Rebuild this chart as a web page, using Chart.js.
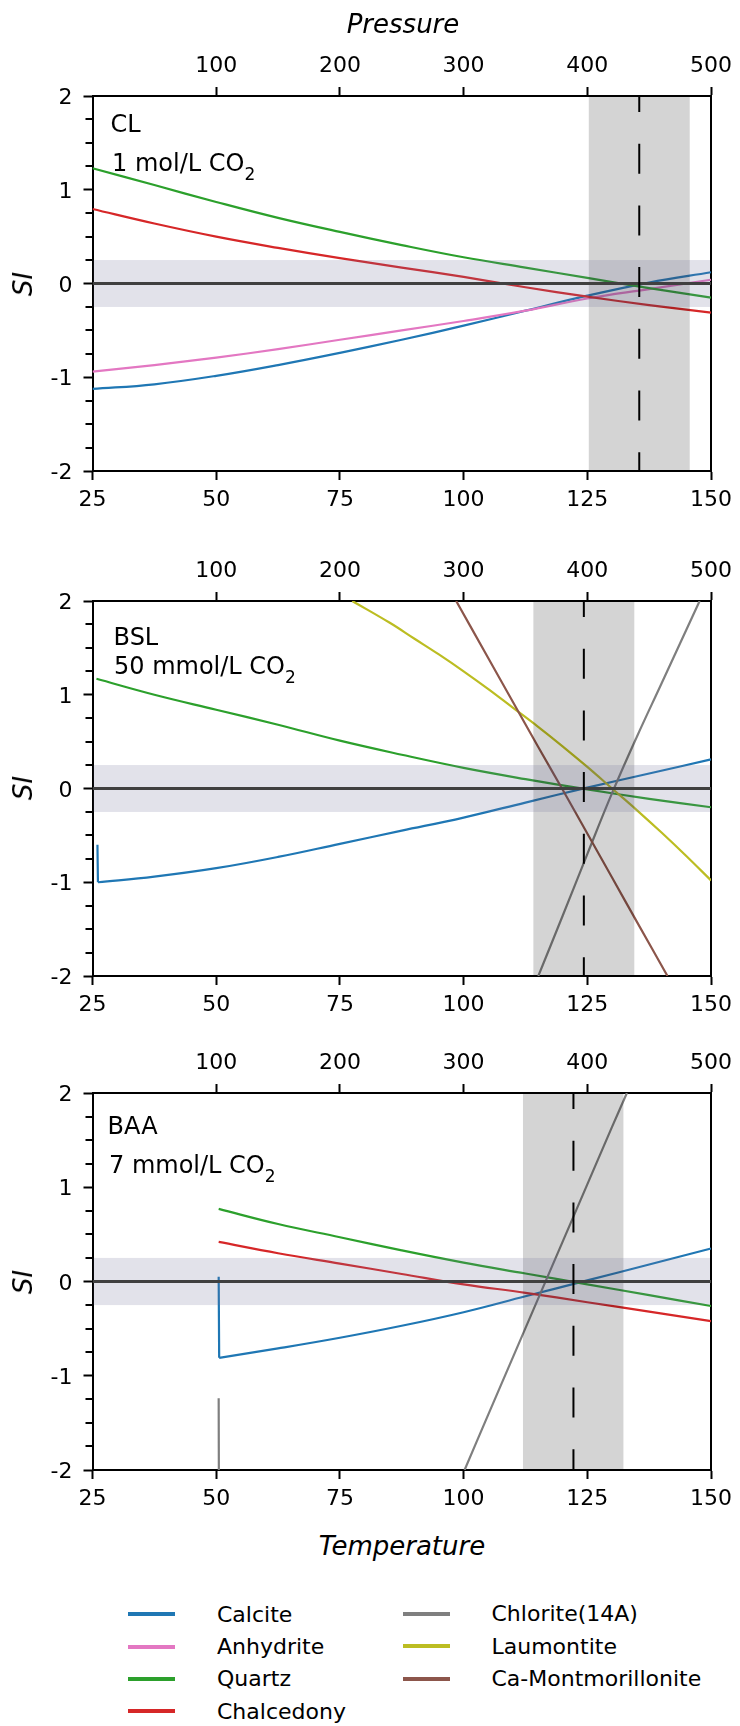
<!DOCTYPE html>
<html><head><meta charset="utf-8">
<script src="https://cdn.jsdelivr.net/npm/chart.js@4.4.1/dist/chart.umd.min.js"></script>
<style>
html,body{margin:0;padding:0;background:#fff;}
#wrap{position:relative;width:740px;height:1726px;overflow:hidden;font-family:'DejaVu Sans';color:#000;}
canvas{position:absolute;left:0;}
.t{position:absolute;white-space:nowrap;}
.ann{font-size:24px;line-height:24px;}
.ann sub{font-size:17px;vertical-align:baseline;position:relative;top:9px;line-height:0;}
.ax{font-size:26px;font-style:italic;line-height:26px;}
.lg{position:absolute;height:4px;width:47px;}
.lt{font-size:22px;line-height:22px;}
</style></head>
<body><div id="wrap">
<canvas id="c1" width="740" height="521" style="top:0px"></canvas>
<canvas id="c2" width="740" height="521" style="top:505px"></canvas>
<canvas id="c3" width="740" height="523" style="top:997px"></canvas>

<div class="t ax" style="left:403px;top:11px;transform:translateX(-50%)">Pressure</div>
<div class="t ax" style="left:402px;top:1533px;transform:translateX(-50%)">Temperature</div>
<div class="t ax" style="left:23px;top:283.5px;transform:translate(-50%,-50%) rotate(-90deg)">SI</div>
<div class="t ax" style="left:23px;top:788.3px;transform:translate(-50%,-50%) rotate(-90deg)">SI</div>
<div class="t ax" style="left:23px;top:1281.7px;transform:translate(-50%,-50%) rotate(-90deg)">SI</div>

<div class="t ann" style="left:110.5px;top:112.3px">CL</div>
<div class="t ann" style="left:112px;top:150.8px">1 mol/L CO<sub>2</sub></div>
<div class="t ann" style="left:113.6px;top:625.2px">BSL</div>
<div class="t ann" style="left:114px;top:653.5px">50 mmol/L CO<sub>2</sub></div>
<div class="t ann" style="left:107.6px;top:1113.5px">BAA</div>
<div class="t ann" style="left:109px;top:1152.8px">7 mmol/L CO<sub>2</sub></div>

<div id="legend"></div>
</div>
<script>
// ---------- data ----------
const minerals = ['Calcite','Anhydrite','Quartz','Chalcedony','Chlorite(14A)','Laumontite','Ca-Montmorillonite'];
const mineralColors = ['#1f77b4','#e377c2','#2ca02c','#d62728','#7f7f7f','#bcbd22','#8c564b'];

const tempTicks = [25, 50, 75, 100, 125, 150];
const pressureTicks = [100, 200, 300, 400, 500];
const siTicks = [-2, -1, 0, 1, 2];
const siMinorTicks = [-1.75, -1.5, -1.25, -0.75, -0.5, -0.25, 0.25, 0.5, 0.75, 1.25, 1.5, 1.75];
const siBand = [-0.25, 0.25];

// Panel 1: CL, 1 mol/L CO2
const tCL = [25, 37.5, 50, 62.5, 75, 87.5, 100, 112.5, 125, 137.5, 150];
const calciteCL    = [-1.125, -1.075, -0.985, -0.87, -0.74, -0.60, -0.45, -0.29, -0.13, 0.01, 0.12];
const anhydriteCL  = [-0.94, -0.87, -0.79, -0.70, -0.60, -0.50, -0.40, -0.29, -0.16, -0.06, 0.04];
const quartzCL     = [1.23, 1.05, 0.87, 0.70, 0.55, 0.41, 0.28, 0.17, 0.06, -0.05, -0.15];
const chalcedonyCL = [0.795, 0.64, 0.50, 0.38, 0.27, 0.17, 0.07, -0.04, -0.14, -0.23, -0.31];
const bandCL = [125.3, 145.7];
const dashCL = 135.5;

// Panel 2: BSL, 50 mmol/L CO2
const tCalciteBSL = [26.0, 26.1, 37.5, 50, 62.5, 75, 87.5, 100, 112.5, 125, 137.5, 150];
const calciteBSL  = [-0.60, -1.00, -0.94, -0.85, -0.73, -0.59, -0.45, -0.31, -0.15, 0.01, 0.16, 0.31];
const tQuartzBSL  = [25.8, 37.5, 50, 62.5, 75, 87.5, 100, 112.5, 125, 137.5, 150];
const quartzBSL   = [1.17, 1.00, 0.84, 0.68, 0.51, 0.36, 0.22, 0.10, -0.01, -0.11, -0.20];
const tChloriteBSL = [115.1, 120, 125, 130, 135, 140, 147.7];
const chloriteBSL  = [-2.0, -1.36, -0.70, -0.05, 0.55, 1.12, 2.0];
const tLaumontiteBSL = [77.5, 85, 90, 95, 100, 105, 110, 115, 120, 125, 130, 135, 140, 145, 150];
const laumontiteBSL  = [2.0, 1.77, 1.60, 1.43, 1.25, 1.06, 0.86, 0.66, 0.45, 0.23, 0.0, -0.23, -0.47, -0.72, -0.98];
const tMontBSL = [98.5, 105, 110, 115, 120, 125, 130, 135, 141.2];
const montBSL  = [2.0, 1.39, 0.92, 0.45, -0.01, -0.48, -0.95, -1.42, -2.0];
const bandBSL = [114.1, 134.5];
const dashBSL = 124.3;

// Panel 3: BAA, 7 mmol/L CO2
const tCalciteBAA = [50.5, 50.6, 62.5, 75, 87.5, 100, 112.5, 125, 137.5, 150];
const calciteBAA  = [0.05, -0.81, -0.71, -0.597, -0.47, -0.326, -0.157, 0.012, 0.18, 0.35];
const tSilicaBAA  = [50.5, 62.5, 75, 87.5, 100, 112.5, 125, 137.5, 150];
const quartzBAA   = [0.77, 0.61, 0.47, 0.33, 0.20, 0.085, -0.03, -0.145, -0.26];
const chalcedonyBAA = [0.42, 0.30, 0.19, 0.08, -0.03, -0.12, -0.22, -0.32, -0.42];
const tChloriteBAA = [50.5, 50.55, 75, 100.2, 105, 110, 115, 120, 125, 130, 133];
const chloriteBAA  = [-1.24, -2.3, null, -2.0, -1.41, -0.80, -0.19, 0.42, 1.03, 1.64, 2.0];
const bandBAA = [112.0, 132.3];
const dashBAA = 122.2;

// ---------- helpers ----------
Chart.defaults.font.family = 'DejaVu Sans';
Chart.defaults.color = '#000';

function pts(xs, ys) { return xs.map((x, i) => ({x: x, y: ys[i]})); }
function ds(mineral, xs, ys) {
  const i = minerals.indexOf(mineral);
  return {
    label: mineral, data: pts(xs, ys), borderColor: mineralColors[i], backgroundColor: mineralColors[i],
    borderWidth: 2.2, pointRadius: 0, fill: false, tension: 0.4,
    spanGaps: false, order: -i
  };
}
// a series whose first point is an initial-state spike: draw the spike and the curve separately
function dsSpike(mineral, xs, ys) {
  return [ds(mineral, xs.slice(0, 2), ys.slice(0, 2)), ds(mineral, xs.slice(1), ys.slice(1))];
}

const overlay = {
  id: 'overlay',
  afterDatasetsDraw(chart, args, opts) {
    const ctx = chart.ctx, a = chart.chartArea, x = chart.scales.x, y = chart.scales.y;
    ctx.save();
    ctx.beginPath(); ctx.rect(a.left, a.top, a.right - a.left, a.bottom - a.top); ctx.clip();
    const x0 = x.getPixelForValue(opts.band[0]), x1 = x.getPixelForValue(opts.band[1]);
    ctx.fillStyle = 'rgba(0,0,0,0.17)';
    ctx.fillRect(x0, a.top + 1, x1 - x0, a.bottom - a.top - 2);
    const y0 = y.getPixelForValue(siBand[1]), y1 = y.getPixelForValue(siBand[0]);
    ctx.fillStyle = 'rgba(110,110,150,0.2)';
    ctx.fillRect(a.left + 1, y0, a.right - a.left - 2, y1 - y0);
    const yz = y.getPixelForValue(0);
    ctx.strokeStyle = '#404040'; ctx.lineWidth = 3;
    ctx.beginPath(); ctx.moveTo(a.left, yz); ctx.lineTo(a.right, yz); ctx.stroke();
    const xd = x.getPixelForValue(opts.dash);
    ctx.strokeStyle = '#000'; ctx.lineWidth = 2;
    ctx.setLineDash([30, 31.7]); ctx.lineDashOffset = 14;
    ctx.beginPath(); ctx.moveTo(xd, a.top); ctx.lineTo(xd, a.bottom); ctx.stroke();
    ctx.restore();
    // minor ticks on the SI axis
    ctx.save();
    ctx.strokeStyle = '#000'; ctx.lineWidth = 2;
    ctx.beginPath();
    siMinorTicks.forEach(v => {
      const py = Math.round(y.getPixelForValue(v));
      ctx.moveTo(a.left, py); ctx.lineTo(a.left - 7, py);
    });
    ctx.stroke();
    ctx.restore();
  }
};

const gridOpts = {drawOnChartArea: false, drawTicks: true, tickLength: 9, tickWidth: 2, tickColor: '#000'};
const borderOpts = {display: true, color: '#000', width: 2};
const tickFont = {family: 'DejaVu Sans', size: 22};

function makeChart(id, datasets, band, dash) {
  return new Chart(document.getElementById(id), {
    type: 'line',
    data: {datasets: datasets},
    options: {
      responsive: false, animation: false, devicePixelRatio: 1,
      layout: {padding: 0},
      plugins: {legend: {display: false}, tooltip: {enabled: false}, overlay: {band: band, dash: dash}},
      scales: {
        x: {
          type: 'linear', position: 'bottom', min: 25, max: 150,
          afterBuildTicks: s => { s.ticks = tempTicks.map(v => ({value: v})); },
          ticks: {autoSkip: false, maxRotation: 0, minRotation: 0, padding: 7, font: tickFont, color: '#000'},
          grid: gridOpts, border: borderOpts,
          afterFit: s => { s.height = 50; }
        },
        x2: {
          type: 'linear', position: 'top', axis: 'x', min: 0, max: 500,
          afterBuildTicks: s => { s.ticks = pressureTicks.map(v => ({value: v})); },
          ticks: {autoSkip: false, maxRotation: 0, minRotation: 0, padding: 8, font: tickFont, color: '#000'},
          grid: gridOpts, border: borderOpts,
          afterFit: s => { s.height = 96; }
        },
        y: {
          type: 'linear', position: 'left', min: -2, max: 2,
          afterBuildTicks: s => { s.ticks = siTicks.map(v => ({value: v})); },
          ticks: {autoSkip: false, padding: 11, labelOffset: 2.5, font: tickFont, color: '#000',
            callback: v => String(v)},
          grid: gridOpts, border: borderOpts,
          afterFit: s => { s.width = 92.5; }
        },
        y2: {
          type: 'linear', position: 'right', axis: 'y', min: -2, max: 2,
          ticks: {display: false},
          grid: {drawOnChartArea: false, drawTicks: false}, border: borderOpts,
          afterFit: s => { s.width = 26; }
        }
      }
    },
    plugins: [overlay]
  });
}

makeChart('c1', [
  ds('Calcite', tCL, calciteCL),
  ds('Anhydrite', tCL, anhydriteCL),
  ds('Quartz', tCL, quartzCL),
  ds('Chalcedony', tCL, chalcedonyCL)
], bandCL, dashCL);

makeChart('c2', [
  ...dsSpike('Calcite', tCalciteBSL, calciteBSL),
  ds('Quartz', tQuartzBSL, quartzBSL),
  ds('Chlorite(14A)', tChloriteBSL, chloriteBSL),
  ds('Laumontite', tLaumontiteBSL, laumontiteBSL),
  ds('Ca-Montmorillonite', tMontBSL, montBSL)
], bandBSL, dashBSL);

makeChart('c3', [
  ...dsSpike('Calcite', tCalciteBAA, calciteBAA),
  ds('Quartz', tSilicaBAA, quartzBAA),
  ds('Chalcedony', tSilicaBAA, chalcedonyBAA),
  ds('Chlorite(14A)', tChloriteBAA, chloriteBAA)
], bandBAA, dashBAA);

// ---------- legend (HTML) ----------
const legendRows = [1614.3, 1646.6, 1679, 1711.3];
const legendCols = [{line: 128, text: 217}, {line: 402.5, text: 491.5}];
const lg = document.getElementById('legend');
minerals.forEach((m, i) => {
  const col = i < 4 ? 0 : 1, row = i < 4 ? i : i - 4;
  const cy = legendRows[row] - (col === 1 ? 0.5 : 0);
  const line = document.createElement('div');
  line.className = 'lg';
  line.style.left = legendCols[col].line + 'px';
  line.style.top = (cy - 2) + 'px';
  line.style.background = mineralColors[i];
  lg.appendChild(line);
  const t = document.createElement('div');
  t.className = 't lt';
  t.style.left = legendCols[col].text + 'px';
  t.style.top = (cy - 10.6) + 'px';
  t.textContent = m;
  lg.appendChild(t);
});
</script>
</body></html>
